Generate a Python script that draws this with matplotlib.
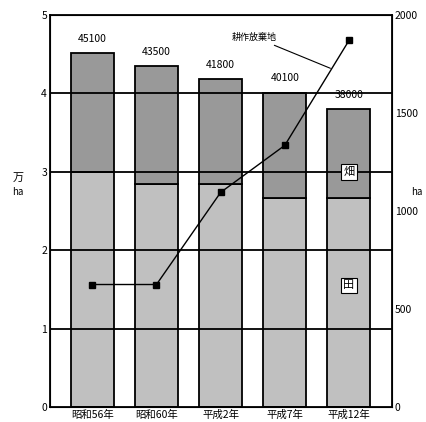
import matplotlib
matplotlib.use("Agg")
import matplotlib.pyplot as plt
import numpy as np

plt.rcParams['font.family'] = ['Noto Sans CJK JP', 'DejaVu Sans']

years = ["昭和56年", "昭和60年", "平成2年", "平成7年", "平成12年"]
totals = [45100, 43500, 41800, 40100, 38000]
paddy = [3.0, 2.84, 2.84, 2.67, 2.67]          # 万ha
total_man = [t / 10000 for t in totals]         # 万ha
abandoned = [625, 625, 1095, 1335, 1870]        # ha

fig = plt.figure(figsize=(4.27, 4.22), dpi=100)
ax = fig.add_axes([0.117, 0.0355, 0.801, 0.929])
x = np.arange(len(years))
w = 0.67

upland = [t - p for t, p in zip(total_man, paddy)]
ax.bar(x, paddy, w, color="#c0c0c0", edgecolor="black", linewidth=1.3, zorder=2)
ax.bar(x, upland, w, bottom=paddy, color="#999999", edgecolor="black", linewidth=1.3, zorder=2)
for yv in [1, 2, 3, 4]:
    ax.axhline(yv, color="black", linewidth=1.3, zorder=3)

for xi, t, tm in zip(x, totals, total_man):
    ax.text(xi, tm + 0.12, str(t), ha="center", va="bottom", fontsize=7.5)

ax.set_xlim(-0.66, 4.67)
ax.set_ylim(0, 5)
ax.set_yticks([0, 1, 2, 3, 4, 5])
ax.set_xticks(x)
ax.set_xticklabels(years, fontsize=7.5)
ax.tick_params(axis="both", length=0, labelsize=7.5, pad=2)
for s in ax.spines.values():
    s.set_linewidth(1.3)

ax.text(-0.094, 0.584, "万", transform=ax.transAxes, fontsize=8, ha="center", va="center")
ax.text(-0.094, 0.548, "ha", transform=ax.transAxes, fontsize=7, ha="center", va="center")

ax2 = ax.twinx()
ax2.plot(x, abandoned, color="black", linewidth=1, marker="s", markersize=4, zorder=5)
ax2.set_ylim(0, 2000)
ax2.set_yticks([0, 500, 1000, 1500, 2000])
ax2.tick_params(axis="y", length=0, labelsize=7.5, pad=2)
ax2.text(1.073, 0.548, "ha", transform=ax.transAxes, fontsize=7, ha="center", va="center")

box = dict(boxstyle="square,pad=0.25", facecolor="white", edgecolor="black", linewidth=0.8)
ax.text(4, 3.0, "畑", fontsize=8, ha="center", va="center", bbox=box, zorder=6)
ax.text(4, 1.55, "田", fontsize=8, ha="center", va="center", bbox=box, zorder=6)

ax.annotate("耕作放棄地", xy=(3.71, 4.32), xytext=(2.87, 4.72), fontsize=6.5,
            ha="right", va="center",
            arrowprops=dict(arrowstyle="-", color="black", linewidth=0.8,
                            shrinkA=2, shrinkB=0), zorder=6)

fig.savefig("out.png", dpi=100)
